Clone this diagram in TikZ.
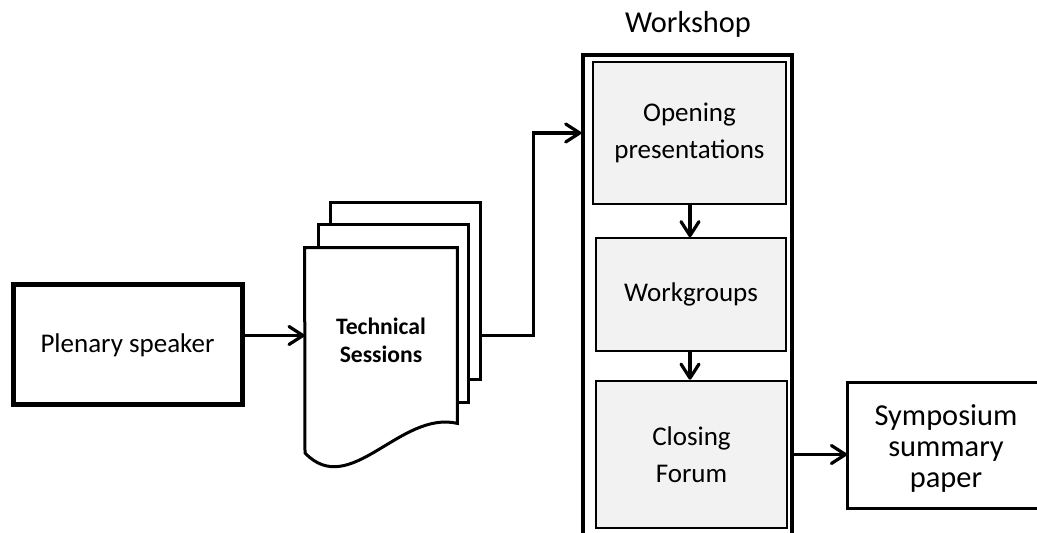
\documentclass[tikz,border=0pt]{standalone}
\usepackage{fontspec}
\setmainfont{Carlito}
\usepackage{tikz}
\usetikzlibrary{arrows.meta,positioning}
\definecolor{boxgray}{HTML}{F2F2F2}
\tikzset{
  arr/.style={line width=1.6pt,-{Straight Barb[length=7pt,width=9pt,round]}},
  txt/.style={font=\fontsize{13.5}{18.5}\selectfont,align=center},
  bigtxt/.style={font=\fontsize{15.2}{15.5}\selectfont,align=center},
  page/.style={draw,line width=1.5pt,fill=white,inner sep=0pt},
  stepbox/.style={draw,line width=0.8pt,fill=boxgray,txt},
}

\begin{document}
\begin{tikzpicture}[x=0.5pt,y=-0.5pt]
        \useasboundingbox (0,0) rectangle (1037,533);
        % Speaker box
        \node[draw,line width=2.5pt,txt,minimum width=114.5pt,minimum height=60pt] (plenary) at (127.5,345) {Plenary speaker};
        % Stack of pages for the sessions
        \node[page,minimum width=75pt,minimum height=88.5pt] (page3) at (405,291.5) {};
        \node[page,minimum width=75pt,minimum height=89pt] (page2) at (393,314) {};
        \node[inner sep=0pt,minimum width=76pt,minimum height=87.5pt] (tech) at (381,335.5) {};
        \draw[line width=1.5pt,fill=white] (tech.south east) -- (tech.north east) -- (tech.north west) -- (305,453)
            .. controls (350,500) and (400,410) .. (tech.south east) -- cycle;
        \node[font=\bfseries\fontsize{11.8}{14}\selectfont,align=center] (techtext) at (381,340) {Technical\\Sessions};
        % Workshop frame and its steps
        \node[draw,line width=1.7pt,minimum width=104.5pt,minimum height=252.5pt] (workshop) at (687.5,307.5) {};
        \node[bigtxt] (wstitle) at (688,24) {Workshop};
        \node[stepbox,minimum width=96.5pt,minimum height=71pt] (opening) at (689.5,133) {Opening\\presentations};
        \node[stepbox,minimum width=95pt,minimum height=56.5pt] (workgroups) at (691,294.5) {Workgroups};
        \node[stepbox,line width=1.3pt,minimum width=95.5pt,minimum height=73.5pt] (closing) at (691.5,454.5) {Closing\\Forum};
        % Result, its box runs off the right edge
        \node[bigtxt,minimum width=99pt,minimum height=62.5pt] (symposium) at (946,448) {Symposium\\summary\\paper};
        \draw[line width=1.5pt] (1045,383) -- (847,383) -- (847,508) -- (1045,508);
        % Connectors
        \draw[arr] (plenary.east |- tech.west) -- (tech.west);
        \draw[arr] (page3.east |- tech.east) -- ++(52,0) |- (workshop.west |- opening.west);
        \draw[arr] (opening.south -| 690,0) -- (workgroups.north -| 690,0);
        \draw[arr] (workgroups.south -| 690,0) -- (closing.north -| 690,0);
        \draw[arr] (workshop.east |- closing.east) -- (847,0 |- closing.east);
\end{tikzpicture}
\end{document}
